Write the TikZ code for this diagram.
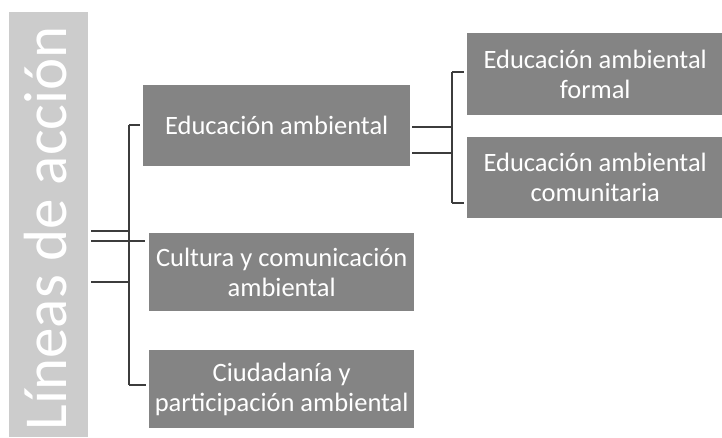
\documentclass[tikz,border=0pt]{standalone}
\usepackage{fontspec}
\setmainfont{Carlito}
\usetikzlibrary{positioning}

\definecolor{barfill}{RGB}{204,204,204}
\definecolor{boxfill}{RGB}{132,132,132}
\definecolor{linkcol}{RGB}{60,60,60}

\begin{document}
\begin{tikzpicture}[x=1pt,y=-1pt,
    box/.style={fill=boxfill,anchor=north west,text=white,align=center,inner sep=0pt,
        font=\fontsize{26.5}{30}\selectfont},
    link/.style={draw=linkcol,line width=1.3pt}]
    \useasboundingbox (0,0) rectangle (722,437);

    % left bar
    \fill[barfill] (9,12) rectangle (88,437);
    \node[rotate=90,anchor=base,text=white,font=\fontsize{61}{70}\selectfont] (bar) at (66,228) {Líneas de acción};
    \coordinate (barR) at (91,0);

    % boxes
    \node[box,minimum width=267,minimum height=81] (edu) at (143,85) {Educación ambiental};
    \node[box,minimum width=265,minimum height=78] (cult) at (149,233) {Cultura y comunicación\\ambiental};
    \node[box,minimum width=265,minimum height=78] (ciud) at (149,350) {Ciudadanía y\\participación ambiental};
    \node[box,minimum width=256,minimum height=82] (formal) at (467,33) {Educación ambiental\\formal};
    \node[box,minimum width=256,minimum height=81] (comun) at (467,137) {Educación ambiental\\comunitaria};

    % left bracket
    \coordinate (t1) at (129,125);
    \coordinate (t2) at (129,385);
    \draw[link] (t1) -- (t2);
    \foreach \y in {231,241,282} {
        \draw[link] (barR |- 0,\y) -- (t1 |- 0,\y);
    }
    \draw[link] (t1) -- ([xshift=-3]edu.west |- t1);
    \draw[link] (t1 |- 0,241) -- ([xshift=-4]cult.west |- 0,241);
    \draw[link] (t2) -- ([xshift=-3]ciud.west |- t2);

    % right bracket
    \coordinate (r1) at (452,72);
    \coordinate (r2) at (452,203);
    \draw[link] (r1) -- (r2);
    \foreach \y in {127,153} {
        \draw[link] ([xshift=2]edu.east |- 0,\y) -- (r1 |- 0,\y);
    }
    \draw[link] (r1) -- ([xshift=-3]formal.west |- r1);
    \draw[link] (r2) -- ([xshift=-3]comun.west |- r2);
\end{tikzpicture}
\end{document}
